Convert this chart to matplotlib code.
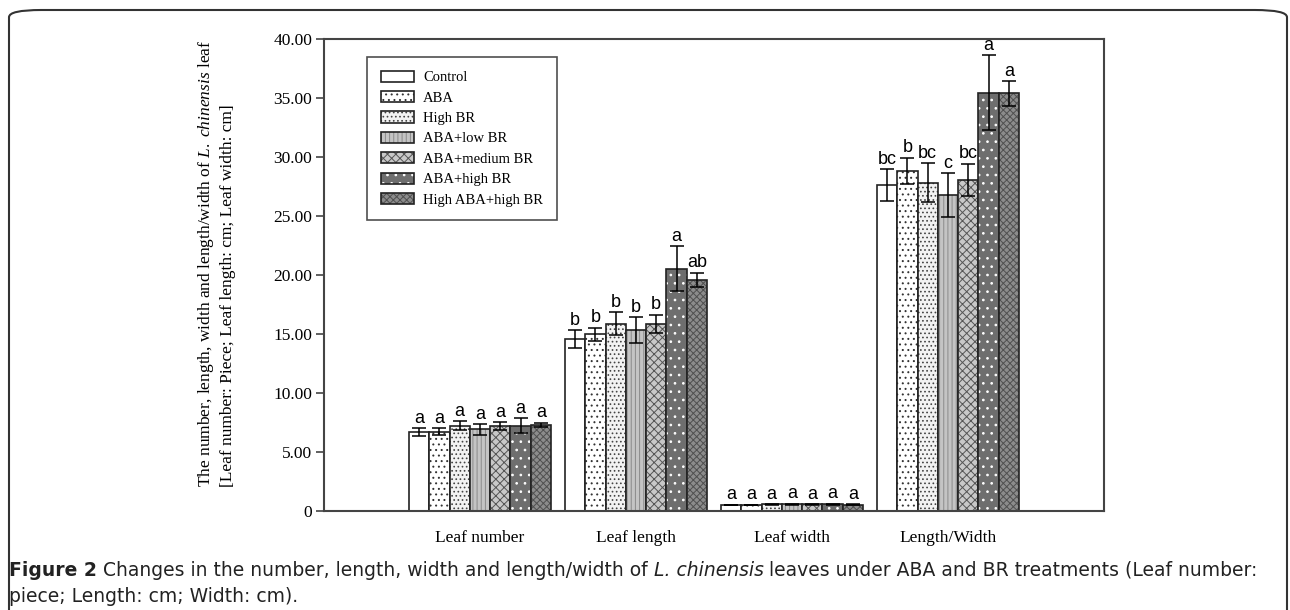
import numpy as np
import matplotlib
matplotlib.use("Agg")
import matplotlib.pyplot as plt
from matplotlib.patches import FancyBboxPatch

# data
groups = ["Leaf number", "Leaf length", "Leaf width", "Length/Width"]
treatments = ["Control", "ABA", "High BR", "ABA+low BR", "ABA+medium BR",
              "ABA+high BR", "High ABA+high BR"]

# rows = treatments, columns = groups
means = [
    [6.67, 14.58, 0.52, 27.63],
    [6.72, 14.97, 0.50, 28.81],
    [7.23, 15.87, 0.56, 27.82],
    [6.92, 15.34, 0.58, 26.78],
    [7.18, 15.87, 0.56, 28.05],
    [7.23, 20.53, 0.58, 35.45],
    [7.29, 19.58, 0.55, 35.40],
]
errors = [
    [0.35, 0.73, 0.03, 1.36],
    [0.30, 0.58, 0.02, 1.13],
    [0.38, 0.96, 0.03, 1.65],
    [0.45, 1.07, 0.03, 1.84],
    [0.35, 0.78, 0.03, 1.38],
    [0.65, 1.90, 0.04, 3.20],
    [0.20, 0.60, 0.03, 1.05],
]
letters = [
    ["a", "b", "a", "bc"],
    ["a", "b", "a", "b"],
    ["a", "b", "a", "bc"],
    ["a", "b", "a", "c"],
    ["a", "b", "a", "bc"],
    ["a", "a", "a", "a"],
    ["a", "ab", "a", "a"],
]

yticks = [0, 5, 10, 15, 20, 25, 30, 35, 40]
yticklabels = ["0", "5.00", "10.00", "15.00", "20.00", "25.00", "30.00", "35.00", "40.00"]

# fill colour, hatch, hatch colour for each treatment
styles = [
    ("white", "", "black"),
    ("white", "...", "#333333"),
    ("#f2f2f2", "....", "#444444"),
    ("#c4c4c4", "||||", "#8a8a8a"),
    ("#c8c8c8", "xxxx", "#555555"),
    ("#6e6e6e", "..", "white"),
    ("#8c8c8c", "xxxxx", "#505050"),
]

plt.rcParams["hatch.linewidth"] = 0.7
plt.rcParams["mathtext.fontset"] = "custom"
plt.rcParams["mathtext.rm"] = "Liberation Serif"
plt.rcParams["mathtext.it"] = "Liberation Serif:italic"

serif = "Liberation Serif"
fig = plt.figure(figsize=(12.9, 6.1), dpi=100)
ax = fig.add_axes([324 / 1290, 1 - 511 / 610, 780 / 1290, 472 / 610])

x = np.arange(len(groups))
w = 0.13
n = len(treatments)
handles = []
for i, name in enumerate(treatments):
    pos = x + (i - (n - 1) / 2) * w
    fc, hatch, hc = styles[i]
    fill = ax.bar(pos, means[i], w, color=fc, hatch=hatch, edgecolor=hc, linewidth=0)
    line = ax.bar(pos, means[i], w, fill=False, edgecolor="#222222", linewidth=1.2)
    ax.errorbar(pos, means[i], yerr=errors[i], fmt="none", ecolor="black",
                elinewidth=1.1, capsize=5, capthick=1.1)
    for j in range(len(groups)):
        ax.annotate(letters[i][j], (pos[j], means[i][j] + errors[i][j]),
                    xytext=(0, 1), textcoords="offset points", ha="center",
                    va="bottom", fontsize=13, family="Liberation Sans")
    handles.append((fill[0], line[0]))

ax.set_xlim(-1, 4)
ax.set_ylim(0, 40)
ax.set_yticks(yticks)
ax.set_yticklabels(yticklabels, family=serif, fontsize=12.5)
ax.set_xticks(x)
ax.set_xticklabels(groups, family=serif, fontsize=12.5)
ax.tick_params(axis="x", length=0, pad=14)
ax.tick_params(axis="y", direction="out", length=6, width=1.2, color="#444444", pad=2.5)
for s in ax.spines.values():
    s.set_color("#444444")
    s.set_linewidth(1.5)

leg = ax.legend(handles, treatments, loc="upper left", bbox_to_anchor=(0.055, 0.962),
                prop={"family": serif, "size": 10.5}, frameon=True, fancybox=False,
                edgecolor="#222222", handlelength=2.3, handleheight=0.8,
                labelspacing=0.46, borderpad=0.95, handletextpad=0.6, borderaxespad=0)
leg.get_frame().set_linewidth(1.2)

# y label, two lines
fig.text(206 / 1290, 1 - 487 / 610,
         r"The number, length, width and length/width of $\it{L.\ chinensis}$ leaf",
         rotation=90, rotation_mode="anchor", ha="left", va="center",
         family=serif, fontsize=12.5)
fig.text(228 / 1290, 1 - 487 / 610,
         "[Leaf number: Piece; Leaf length: cm; Leaf width: cm]",
         rotation=90, rotation_mode="anchor", ha="left", va="center",
         family=serif, fontsize=12.5)

# rounded frame around figure + caption
frame = FancyBboxPatch((9 / 1290, -0.2), 1278 / 1290, 1.2 - 10 / 610,
                       boxstyle="round,pad=0,rounding_size=0.025",
                       transform=fig.transFigure, fill=False,
                       edgecolor="#333333", linewidth=1.5, mutation_aspect=610 / 1290)
fig.patches.append(frame)

cap_font = ["Liberation Sans Narrow", "DejaVu Sans"]
cap_lines = [
    [("Figure 2", "bold", "normal"),
     (" Changes in the number, length, width and length/width of ", "normal", "normal"),
     ("L. chinensis", "normal", "italic"),
     (" leaves under ABA and BR treatments (Leaf number:", "normal", "normal")],
    [("piece; Length: cm; Width: cm).", "normal", "normal")],
]
fig.canvas.draw()
r = fig.canvas.get_renderer()
for k, parts in enumerate(cap_lines):
    xpos = 9
    ypos = 1 - (570 + 26 * k) / 610
    for txt, wt, st in parts:
        t = fig.text(xpos / 1290, ypos, txt, family=cap_font, fontsize=13.5,
                     weight=wt, style=st, va="center", ha="left", color="#222222")
        xpos += t.get_window_extent(r).width

fig.savefig("out.png", dpi=100)
